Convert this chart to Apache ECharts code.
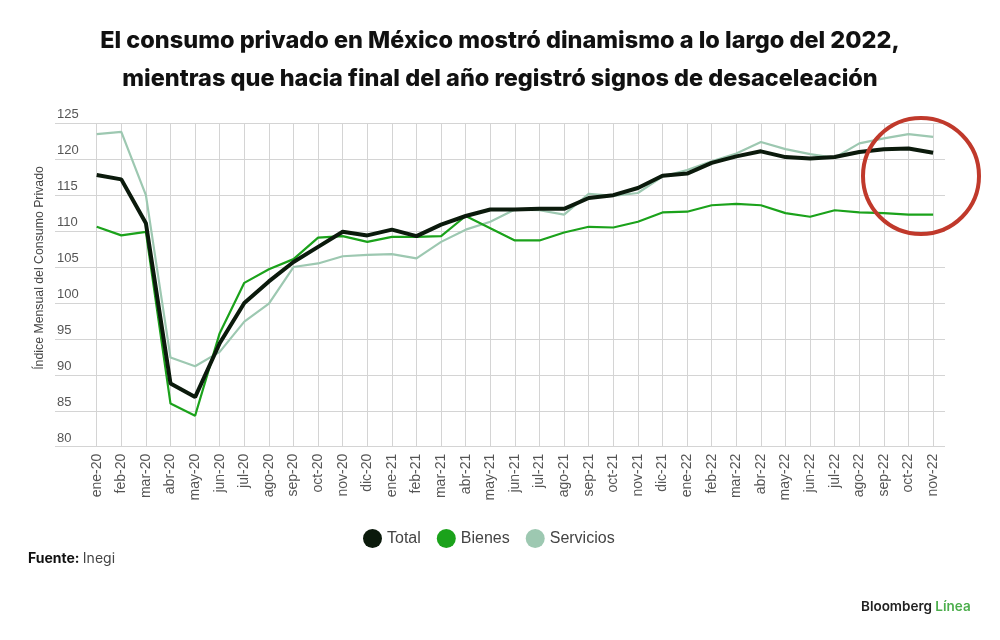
<!DOCTYPE html>
<html>
<head>
<meta charset="utf-8">
<script src="https://cdn.jsdelivr.net/npm/echarts@6/dist/echarts.min.js"></script>
<style>
  html, body { margin: 0; padding: 0; background: #fff; }
  #chart { width: 1000px; height: 640px; }
</style>
</head>
<body>
<div id="chart"></div>
<script>
// meses, ene-20 a nov-22
var meses = ['ene-20','feb-20','mar-20','abr-20','may-20','jun-20','jul-20','ago-20','sep-20','oct-20','nov-20','dic-20',
  'ene-21','feb-21','mar-21','abr-21','may-21','jun-21','jul-21','ago-21','sep-21','oct-21','nov-21','dic-21',
  'ene-22','feb-22','mar-22','abr-22','may-22','jun-22','jul-22','ago-22','sep-22','oct-22','nov-22'];

// valores
var total = [117.8,117.2,111.1,88.8,86.9,94.4,100.0,103.0,105.7,107.8,109.9,109.4,
  110.2,109.3,110.9,112.1,113.0,113.0,113.1,113.1,114.6,115.0,116.0,117.7,
  118.0,119.5,120.4,121.1,120.3,120.1,120.3,121.0,121.4,121.5,120.9];
var bienes = [110.6,109.4,109.9,86.0,84.3,95.8,102.8,104.7,106.1,109.1,109.3,108.5,
  109.2,109.2,109.3,112.1,110.4,108.7,108.7,109.8,110.6,110.5,111.3,112.6,
  112.7,113.6,113.8,113.6,112.5,112.0,112.9,112.6,112.5,112.3,112.3];
var servicios = [123.5,123.8,115.0,92.4,91.2,93.2,97.4,99.9,105.0,105.5,106.5,106.7,
  106.8,106.2,108.5,110.2,111.3,113.0,112.9,112.3,115.2,114.9,115.3,117.6,
  118.5,119.7,120.8,122.4,121.4,120.7,120.2,122.2,122.9,123.5,123.1];

var yMin = 80, yMax = 125, yPaso = 5;

var fuente = '"Liberation Sans", Arial, sans-serif';

var myChart = echarts.init(document.getElementById('chart'));

var option = {
  backgroundColor: '#fff',
  textStyle: { fontFamily: fuente },
  title: {
    text: 'El consumo privado en México mostró dinamismo a lo largo del 2022,\nmientras que hacia final del año registró signos de desaceleación',
    left: 'center',
    top: 17,
    textStyle: { fontFamily: 'Inter, sans-serif', fontWeight: 800, fontSize: 23.5, lineHeight: 38, color: '#111' }
  },
  legend: {
    data: ['Total', 'Bienes', 'Servicios'],
    left: 358,
    top: 524,
    icon: 'circle',
    itemWidth: 19,
    itemHeight: 19,
    itemGap: 16,
    textStyle: { fontSize: 16, color: '#444', fontFamily: fuente }
  },
  grid: [
    // rejilla horizontal (mas ancha)
    { left: 55, right: 55, top: 123.3, bottom: 193.3 },
    // area de datos
    { left: 96.7, right: 66.9, top: 123.3, bottom: 193.3 }
  ],
  xAxis: [
    { gridIndex: 0, type: 'value', show: false },
    {
      gridIndex: 1,
      type: 'category',
      data: meses,
      boundaryGap: false,
      axisLine: { show: false },
      axisTick: { show: false },
      splitLine: { show: true, interval: 0, lineStyle: { color: '#d4d4d4', width: 1 } },
      axisLabel: { interval: 0, rotate: 90, margin: 7, fontSize: 14, color: '#555' }
    }
  ],
  yAxis: [
    {
      gridIndex: 0,
      type: 'value',
      min: yMin, max: yMax, interval: yPaso,
      axisLine: { show: false },
      axisTick: { show: false },
      splitLine: { lineStyle: { color: '#d4d4d4', width: 1 } },
      axisLabel: { align: 'left', verticalAlign: 'bottom', margin: -2, padding: [0, 0, 2, 0], fontSize: 13, color: '#555' }
    },
    { gridIndex: 1, type: 'value', min: yMin, max: yMax, show: false }
  ],
  series: [
    {
      name: 'Servicios', type: 'line', xAxisIndex: 1, yAxisIndex: 1,
      data: servicios, symbol: 'none', color: '#9dc8b1',
      lineStyle: { width: 2.2 }, z: 2
    },
    {
      name: 'Bienes', type: 'line', xAxisIndex: 1, yAxisIndex: 1,
      data: bienes, symbol: 'none', color: '#1ba21b',
      lineStyle: { width: 2.2 }, z: 3
    },
    {
      name: 'Total', type: 'line', xAxisIndex: 1, yAxisIndex: 1,
      data: total, symbol: 'none', color: '#0b1a0c',
      lineStyle: { width: 4 }, z: 4
    }
  ],
  graphic: [
    // titulo del eje y
    {
      type: 'text', x: 40, y: 268, rotation: Math.PI / 2,
      style: { text: 'Índice Mensual del Consumo Privado', align: 'center', verticalAlign: 'middle', fontFamily: fuente, fontSize: 12.3, fill: '#444' }
    },
    // circulo rojo de la anotacion
    { type: 'circle', shape: { cx: 921, cy: 176, r: 58 }, style: { fill: 'none', stroke: '#c0392b', lineWidth: 4 }, z: 10 },
    {
      type: 'text', left: 28, top: 552,
      style: {
        text: '{b|Fuente:} {n|Inegi}',
        rich: {
          b: { fontFamily: 'Inter, sans-serif', fontWeight: 700, fontSize: 14, fill: '#111' },
          n: { fontFamily: 'Inter, sans-serif', fontSize: 14, fill: '#444' }
        }
      }
    },
    {
      type: 'text', left: 861, top: 600,
      style: {
        text: '{a|Bloomberg }{b|Línea}',
        rich: {
          a: { fontFamily: 'Inter, sans-serif', fontWeight: 600, fontSize: 13.5, fill: '#222' },
          b: { fontFamily: 'Inter, sans-serif', fontWeight: 600, fontSize: 13.5, fill: '#4cae4c' }
        }
      }
    }
  ]
};

myChart.setOption(option);
</script>
</body>
</html>
